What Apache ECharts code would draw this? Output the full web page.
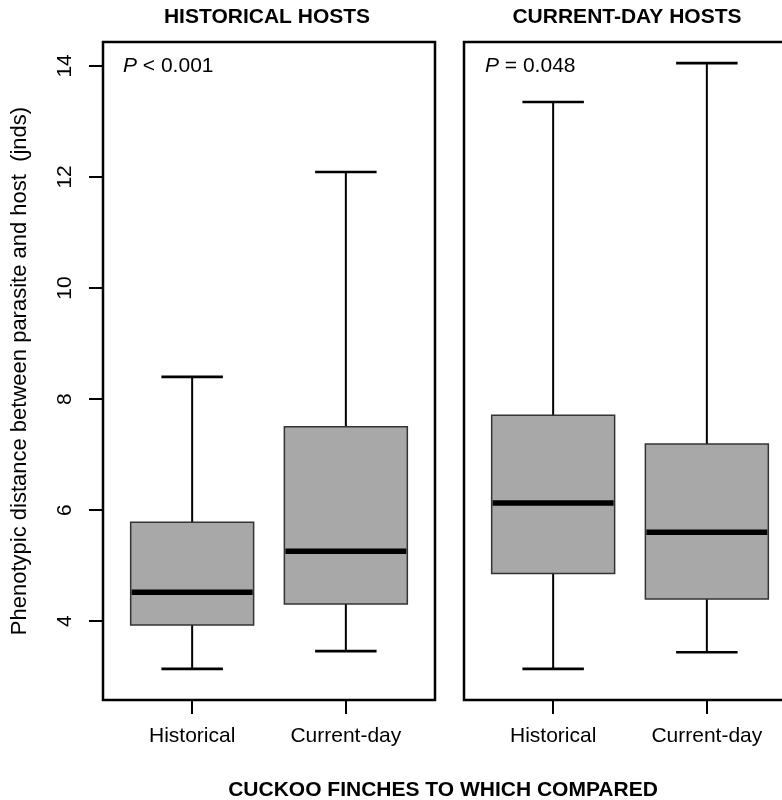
<!DOCTYPE html>
<html><head><meta charset="utf-8">
<script src="https://cdn.jsdelivr.net/npm/echarts@6/dist/echarts.min.js"></script>
<style>html,body{margin:0;padding:0;background:#fff}#c{width:782px;height:800px}</style>
</head><body><div id="c"></div>
<script>
const categories = ['Historical', 'Current-day'];
const panelTitles = ['HISTORICAL HOSTS', 'CURRENT-DAY HOSTS'];
const pTexts = ['{i|P} < 0.001', '{i|P} = 0.048'];
const yAxisTitle = 'Phenotypic distance between parasite and host  (jnds)';
const xAxisTitle = 'CUCKOO FINCHES TO WHICH COMPARED';
// each box: [lower whisker, Q1, median, Q3, upper whisker]
const historicalHostsBoxes = [
  [3.14, 3.93, 4.52, 5.78, 8.40],
  [3.46, 4.31, 5.26, 7.50, 12.09]
];
const currentHostsBoxes = [
  [3.14, 4.86, 6.13, 7.71, 13.35],
  [3.44, 4.40, 5.60, 7.19, 14.05]
];
const yTicks = [4, 6, 8, 10, 12, 14];
const xPositions = [1, 2];

const FONT = '"Liberation Sans", Arial, Helvetica, sans-serif';

function renderBox(params, api) {
  const x = api.value(0);
  const lo = api.value(1), q1 = api.value(2), med = api.value(3), q3 = api.value(4), hi = api.value(5);
  const hw = 0.4, cw = 0.2;
  const tl = api.coord([x - hw, q3]);
  const br = api.coord([x + hw, q1]);
  const cx = api.coord([x, med])[0];
  const yLo = api.coord([x, lo])[1], yHi = api.coord([x, hi])[1];
  const yQ1 = br[1], yQ3 = tl[1], yMed = api.coord([x, med])[1];
  const cL = api.coord([x - cw, lo])[0], cR = api.coord([x + cw, lo])[0];
  const black = {stroke: '#000', lineWidth: 2};
  return {
    type: 'group',
    children: [
      {type: 'line', shape: {x1: cx, y1: yQ3, x2: cx, y2: yHi}, style: black},
      {type: 'line', shape: {x1: cx, y1: yQ1, x2: cx, y2: yLo}, style: black},
      {type: 'line', shape: {x1: cL, y1: yHi, x2: cR, y2: yHi}, style: {stroke: '#000', lineWidth: 2.6}},
      {type: 'line', shape: {x1: cL, y1: yLo, x2: cR, y2: yLo}, style: {stroke: '#000', lineWidth: 2.6}},
      {type: 'rect', shape: {x: tl[0], y: tl[1], width: br[0] - tl[0], height: br[1] - tl[1]},
        style: {fill: '#a8a8a8', stroke: '#333', lineWidth: 1.5}},
      {type: 'line', shape: {x1: tl[0] + 1, y1: yMed, x2: br[0] - 1, y2: yMed}, style: {stroke: '#000', lineWidth: 5.5}}
    ]
  };
}

function toData(boxes) {
  return boxes.map((b, i) => [xPositions[i]].concat(b));
}

const gridCommon = {top: 42, height: 658, width: 332, show: true, borderColor: '#000', borderWidth: 2.5,
  backgroundColor: 'transparent', outerBoundsMode: 'none', containLabel: false};

function xAxisFor(gi) {
  return {
    type: 'value', gridIndex: gi, min: 0.42, max: 2.58,
    axisLine: {show: false}, splitLine: {show: false},
    axisTick: {show: true, customValues: xPositions, length: 14, lineStyle: {color: '#000', width: 2}},
    axisLabel: {show: true, customValues: xPositions, margin: 26, color: '#000', fontSize: 21, fontFamily: FONT,
      formatter: v => categories[Math.round(v) - 1]}
  };
}

const option = {
  animation: false,
  backgroundColor: '#fff',
  grid: [
    Object.assign({left: 103}, gridCommon),
    Object.assign({left: 464}, gridCommon)
  ],
  xAxis: [xAxisFor(0), xAxisFor(1)],
  yAxis: [
    {
      type: 'value', gridIndex: 0, min: 2.58, max: 14.43,
      axisLine: {show: false}, splitLine: {show: false},
      axisTick: {show: true, customValues: yTicks, length: 14, lineStyle: {color: '#000', width: 2}},
      axisLabel: {show: true, customValues: yTicks, rotate: 90, margin: 27, color: '#000', fontSize: 21, fontFamily: FONT},
      name: yAxisTitle, nameLocation: 'middle', nameRotate: 90, nameGap: 72,
      nameTextStyle: {color: '#000', fontSize: 22, fontFamily: FONT}
    },
    {
      type: 'value', gridIndex: 1, min: 2.58, max: 14.43,
      axisLine: {show: false}, splitLine: {show: false},
      axisTick: {show: false}, axisLabel: {show: false}
    }
  ],
  series: [
    {type: 'custom', xAxisIndex: 0, yAxisIndex: 0, renderItem: renderBox, data: toData(historicalHostsBoxes),
      encode: {x: 0, y: [1, 2, 3, 4, 5]}, clip: false, silent: true},
    {type: 'custom', xAxisIndex: 1, yAxisIndex: 1, renderItem: renderBox, data: toData(currentHostsBoxes),
      encode: {x: 0, y: [1, 2, 3, 4, 5]}, clip: false, silent: true}
  ],
  graphic: [
    {type: 'text', x: 267, y: 17, style: {text: panelTitles[0], fontSize: 21, fontWeight: 'bold', fontFamily: FONT,
      fill: '#000', align: 'center', verticalAlign: 'middle'}},
    {type: 'text', x: 627, y: 17, style: {text: panelTitles[1], fontSize: 21, fontWeight: 'bold', fontFamily: FONT,
      fill: '#000', align: 'center', verticalAlign: 'middle'}},
    {type: 'text', x: 123, y: 66, style: {text: pTexts[0], fontSize: 21, fontFamily: FONT, fill: '#000',
      align: 'left', verticalAlign: 'middle', rich: {i: {fontStyle: 'italic', fontSize: 21, fontFamily: FONT, fill: '#000'}}}},
    {type: 'text', x: 485, y: 66, style: {text: pTexts[1], fontSize: 21, fontFamily: FONT, fill: '#000',
      align: 'left', verticalAlign: 'middle', rich: {i: {fontStyle: 'italic', fontSize: 21, fontFamily: FONT, fill: '#000'}}}},
    {type: 'text', x: 443, y: 790, style: {text: xAxisTitle, fontSize: 21, fontWeight: 'bold', fontFamily: FONT,
      fill: '#000', align: 'center', verticalAlign: 'middle'}}
  ]
};

const chart = echarts.init(document.getElementById('c'), null, {renderer: 'canvas'});
chart.setOption(option);
</script>
</body></html>
